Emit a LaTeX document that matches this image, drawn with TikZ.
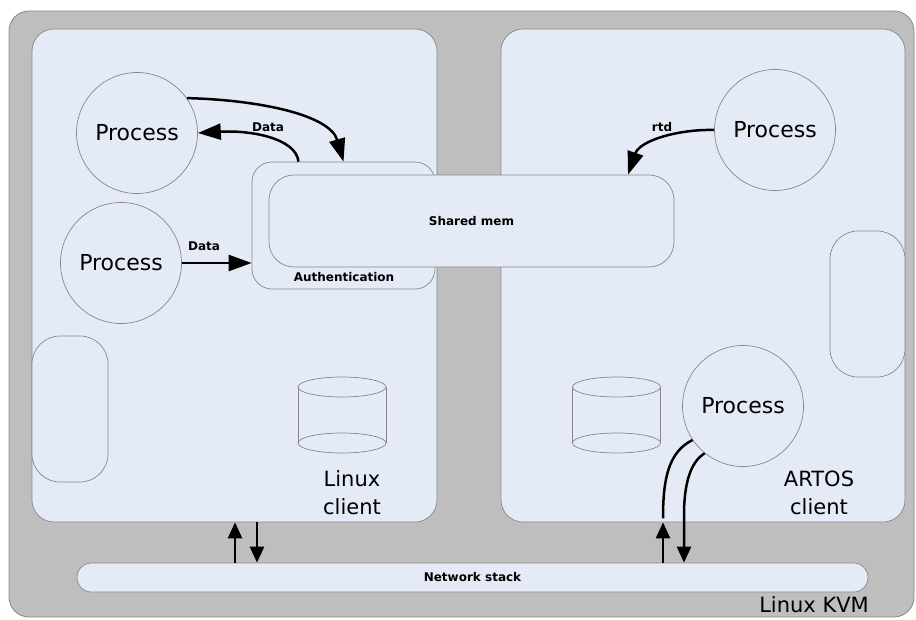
\documentclass[tikz,border=0pt]{standalone}
\usepackage{fontspec}
\setmainfont{DejaVu Sans}
\usetikzlibrary{arrows.meta,calc}
\definecolor{kvmgray}{RGB}{190,190,190}
\definecolor{panel}{RGB}{229,235,246}
\definecolor{edge}{RGB}{135,135,135}
\begin{document}
\begin{tikzpicture}[x=1pt,y=-1pt,
  box/.style={draw=edge,fill=panel,line width=0.7pt,inner sep=0pt,rectangle},
  proc/.style={circle,draw=edge,fill=panel,line width=0.7pt,minimum size=121pt,inner sep=0pt,font=\fontsize{22}{26}\selectfont},
  lbl/.style={font=\bfseries\fontsize{12}{14}\selectfont,inner sep=0pt},
  big/.style={font=\fontsize{21}{28}\selectfont,align=center,inner sep=0pt},
  arr/.style={line width=2.5pt,-{Triangle[length=23pt,width=16pt]}},
  netarr/.style={line width=2.5pt,-{Triangle[length=16pt,width=14pt]}},
  wire/.style={line width=2.5pt}]
\useasboundingbox (0,0) rectangle (916,619);
% outer KVM box
\node[draw=edge,fill=kvmgray,line width=0.8pt,rounded corners=20pt,minimum width=905pt,minimum height=606pt,inner sep=0pt] (kvm) at (461.5,314) {};
% panels
\node[box,rounded corners=22pt,minimum width=405pt,minimum height=493pt] (lp) at (234.5,275.5) {};
\node[box,rounded corners=22pt,minimum width=404pt,minimum height=493pt] (rp) at (703,275.5) {};
% network stack
\node[box,rounded corners=14.5pt,minimum width=791pt,minimum height=29pt,font=\bfseries\fontsize{12}{14}\selectfont] (net) at (472.5,577.5) {Network stack};
\node[big,anchor=east] (kvmlbl) at (869,605) {Linux KVM};
% authentication and shared memory
\node[box,rounded corners=20pt,minimum width=183pt,minimum height=127pt] (auth) at (343.5,225.5) {};
\node[lbl] (authlbl) at (344,277) {Authentication};
\node[box,rounded corners=25pt,minimum width=405pt,minimum height=92pt,font=\bfseries\fontsize{12}{14}\selectfont] (shm) at (471.5,221) {Shared mem};
% side boxes
\node[box,rounded corners=28pt,minimum width=76pt,minimum height=146pt] (lside) at (70,409) {};
\node[box,rounded corners=28pt,minimum width=75pt,minimum height=146pt] (rside) at (867.5,304) {};
% processes
\node[proc] (p1) at (137,133) {Process};
\node[proc] (p2) at (121,263) {Process};
\node[proc] (p3) at (775,130) {Process};
\node[proc] (p4) at (743,406) {Process};
% cylinders
\foreach \cx in {342,616.5}{
  \fill[panel] (\cx-44,387) rectangle (\cx+44,443);
  \draw[edge,line width=0.7pt] (\cx-44,387) -- (\cx-44,443) (\cx+44,387) -- (\cx+44,443);
  \draw[edge,line width=0.7pt] (\cx,387) ellipse [x radius=44,y radius=10];
  \draw[edge,line width=0.7pt] (\cx,443) ellipse [x radius=44,y radius=10];
}
% client labels
\node[big] (lcl) at (352,493) {Linux\\client};
\node[big] (rcl) at (819,493) {ARTOS\\client};
% arrows left panel
\draw[arr] (p1.35) .. controls (260,100) and (330,115) .. (auth.north);
\draw[arr] ([xshift=-45pt]auth.north) .. controls (296,138) and (250,130) .. (p1.east);
\node[lbl] (d1) at (268,127) {Data};
\draw[arr] (p2.east) -- (p2.east -| auth.west);
\node[lbl] (d2) at (204,246) {Data};
% rtd
\draw[arr] (p3.west) .. controls (680,129) and (640,140) .. ([xshift=156.5pt]shm.north);
\node[lbl] (rtd) at (662,127) {rtd};
% network arrows
\coordinate (x1) at (235,0);
\coordinate (x2) at (257,0);
\coordinate (x3) at (663,0);
\coordinate (x4) at (684,0);
\draw[netarr] (net.north -| x1) -- (lp.south -| x1);
\draw[netarr] (lp.south -| x2) -- (net.north -| x2);
\draw[netarr] (net.north -| x3) -- (rp.south -| x3);
\draw[wire] ([yshift=4pt]rp.south -| x3) .. controls (663,480) and (668,452) .. (p4.214);
\draw[netarr] (p4.231) .. controls (690,462) and (684,485) .. (684,515) -- (net.north -| x4);
\end{tikzpicture}
\end{document}
